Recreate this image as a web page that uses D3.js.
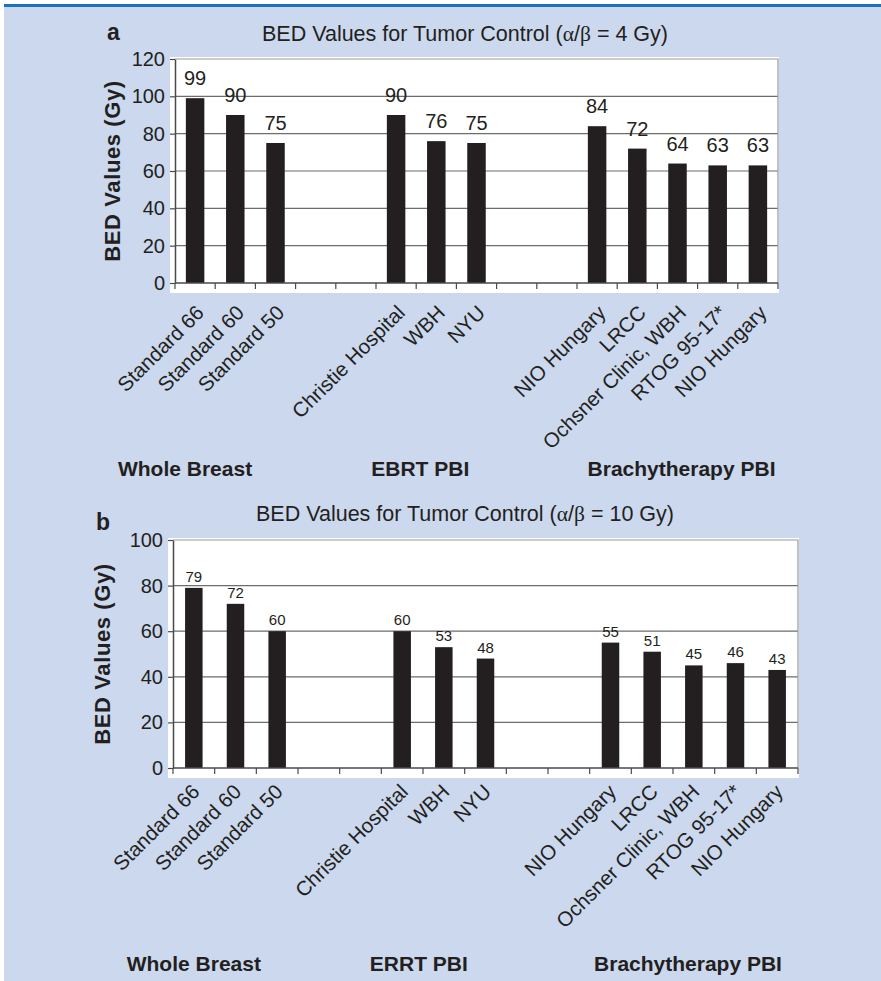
<!DOCTYPE html>
<html>
<head>
<meta charset="utf-8">
<script src="https://cdn.jsdelivr.net/npm/d3@7/dist/d3.min.js"></script>
<style>
  html, body { margin: 0; padding: 0; background: #ffffff; }
  svg { display: block; }
  text { font-family: "Liberation Sans", Arial, Helvetica, sans-serif; fill: #231f20; }
</style>
</head>
<body>
<svg id="fig" width="881" height="981"></svg>
<script>
// Treatment schedules, in slot order; null marks an empty spacer slot between groups
const categories = ["Standard 66", "Standard 60", "Standard 50", null, null,
  "Christie Hospital", "WBH", "NYU", null, null,
  "NIO Hungary", "LRCC", "Ochsner Clinic, WBH", "RTOG 95-17*", "NIO Hungary"];

// BED (Gy) for alpha/beta = 4 Gy
const bedAlphaBeta4 = [99, 90, 75, null, null, 90, 76, 75, null, null, 84, 72, 64, 63, 63];
// BED (Gy) for alpha/beta = 10 Gy
const bedAlphaBeta10 = [79, 72, 60, null, null, 60, 53, 48, null, null, 55, 51, 45, 46, 43];

const groupLabelsA = ["Whole Breast", "EBRT PBI", "Brachytherapy PBI"];
const groupLabelsB = ["Whole Breast", "ERRT PBI", "Brachytherapy PBI"];

const yTicksA = [0, 20, 40, 60, 80, 100, 120];
const yTicksB = [0, 20, 40, 60, 80, 100];

const svg = d3.select("#fig");

// page background and top rule
svg.append("rect").attr("x", 4).attr("y", 6).attr("width", 877).attr("height", 975).attr("fill", "#cbd8ed");
svg.append("rect").attr("x", 4).attr("y", 4).attr("width", 877).attr("height", 3).attr("fill", "#1a73bd");

function panel(opt) {
  const g = svg.append("g");
  const slots = d3.range(categories.length);

  const x = d3.scaleBand().domain(slots).range([opt.left, opt.right])
    .paddingInner(opt.pad).paddingOuter(opt.pad / 2);
  const xStep = d3.scaleLinear().domain([0, categories.length]).range([opt.left, opt.right]);
  const y = d3.scaleLinear().domain([0, opt.yMax]).range([opt.bottom, opt.top]);

  // white plotting area
  g.append("rect")
    .attr("x", opt.left - 5).attr("y", opt.top - 2)
    .attr("width", opt.right - opt.left + 6).attr("height", opt.bottom - opt.top + 12)
    .attr("fill", "#ffffff");

  // horizontal grid
  g.append("g").selectAll("line").data(opt.yTicks.filter(t => t > 0 && t < opt.yMax)).join("line")
    .attr("x1", opt.left).attr("x2", opt.right)
    .attr("y1", d => y(d)).attr("y2", d => y(d))
    .attr("stroke", "#6d6d6d").attr("stroke-width", 1.2);

  // plot frame (top and right)
  g.append("path")
    .attr("d", `M${opt.left},${y(opt.yMax)}H${opt.right}V${opt.bottom}`)
    .attr("fill", "none").attr("stroke", "#9a9a9a").attr("stroke-width", 1.2);

  // bars
  g.append("g").selectAll("rect").data(slots.filter(i => opt.values[i] != null)).join("rect")
    .attr("x", i => x(i)).attr("width", x.bandwidth())
    .attr("y", i => y(opt.values[i])).attr("height", i => y(0) - y(opt.values[i]))
    .attr("fill", "#231f20");

  // value labels
  g.append("g").selectAll("text").data(slots.filter(i => opt.values[i] != null)).join("text")
    .attr("x", i => x(i) + x.bandwidth() / 2)
    .attr("y", i => y(opt.values[i]) - opt.valueGap)
    .attr("text-anchor", "middle")
    .attr("font-size", opt.valueFont)
    .text(i => opt.values[i]);

  // y axis
  const yAxis = d3.axisLeft(y).tickValues(opt.yTicks).tickSize(5).tickPadding(5).tickSizeOuter(0);
  const ya = g.append("g").attr("transform", `translate(${opt.left},0)`).call(yAxis);
  ya.select(".domain").attr("stroke", "#4a4a4a").attr("stroke-width", 1.5);
  ya.selectAll(".tick line").attr("stroke", "#4a4a4a").attr("stroke-width", 1.2);
  ya.selectAll(".tick text").attr("font-size", 20).attr("font-family", null).attr("fill", "#231f20");

  // x axis with ticks on slot boundaries
  g.append("line").attr("x1", opt.left).attr("x2", opt.right)
    .attr("y1", opt.bottom).attr("y2", opt.bottom)
    .attr("stroke", "#4a4a4a").attr("stroke-width", 1.5);
  g.append("g").selectAll("line").data(d3.range(categories.length + 1)).join("line")
    .attr("x1", d => xStep(d)).attr("x2", d => xStep(d))
    .attr("y1", opt.bottom).attr("y2", opt.bottom + 6)
    .attr("stroke", "#4a4a4a").attr("stroke-width", 1.2);

  // rotated category labels
  g.append("g").selectAll("text").data(slots.filter(i => categories[i] != null)).join("text")
    .attr("transform", i => `translate(${x(i) + x.bandwidth() / 2 + opt.labDx},${opt.bottom + opt.labDy}) rotate(-45)`)
    .attr("text-anchor", "end")
    .attr("font-size", 20.5)
    .text(i => categories[i]);

  // group captions
  g.append("g").selectAll("text").data(opt.groups).join("text")
    .attr("x", (d, k) => xStep(opt.groupPos[k]))
    .attr("y", opt.groupY)
    .attr("text-anchor", "middle")
    .attr("font-size", 21).attr("font-weight", "bold")
    .text(d => d);

  // y title
  g.append("text")
    .attr("transform", `translate(${opt.yTitleX},${(opt.top + opt.bottom) / 2}) rotate(-90)`)
    .attr("text-anchor", "middle")
    .attr("font-size", 22).attr("font-weight", "bold").attr("letter-spacing", 0.6)
    .text("BED Values (Gy)");

  // chart title with Greek symbols in a serif face
  const t = g.append("text").attr("x", 465).attr("y", opt.titleY)
    .attr("text-anchor", "middle").attr("font-size", 21.5);
  t.append("tspan").text("BED Values for Tumor Control (");
  t.append("tspan").attr("font-family", "'Liberation Serif', 'Times New Roman', serif").text("\u03b1");
  t.append("tspan").text("/");
  t.append("tspan").attr("font-family", "'Liberation Serif', 'Times New Roman', serif").text("\u03b2");
  t.append("tspan").text(` = ${opt.abValue} Gy)`);

  // panel letter
  g.append("text").attr("x", opt.letterX).attr("y", opt.letterY)
    .attr("font-size", 23).attr("font-weight", "bold").text(opt.letter);
}

panel({
  values: bedAlphaBeta4, yMax: 120, yTicks: yTicksA,
  left: 175, right: 778, top: 59, bottom: 283, pad: 0.54,
  valueGap: 13, valueFont: 20, labDx: 10, labDy: 31,
  groups: groupLabelsA, groupPos: [0.25, 6.1, 12.6], groupY: 476,
  yTitleX: 120, titleY: 41, abValue: 4,
  letter: "a", letterX: 107, letterY: 40
});

panel({
  values: bedAlphaBeta10, yMax: 100, yTicks: yTicksB,
  left: 173, right: 798, top: 540, bottom: 768, pad: 0.58,
  valueGap: 6, valueFont: 15, labDx: 7, labDy: 25,
  groups: groupLabelsB, groupPos: [0.5, 5.9, 12.36], groupY: 971,
  yTitleX: 110, titleY: 521, abValue: 10,
  letter: "b", letterX: 96, letterY: 530
});
</script>
</body>
</html>
